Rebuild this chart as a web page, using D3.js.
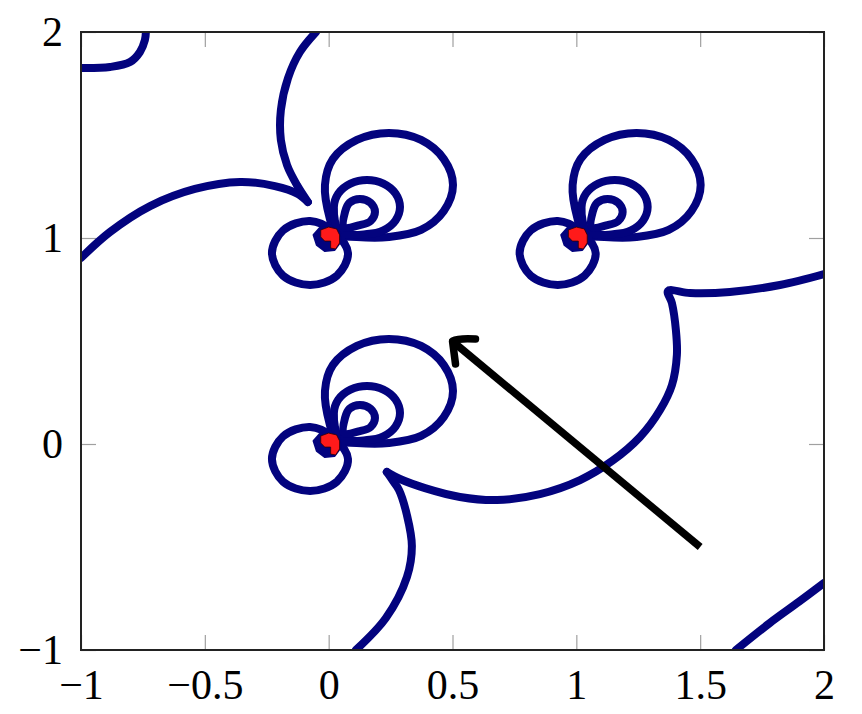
<!DOCTYPE html>
<html><head><meta charset="utf-8">
<script src="https://cdn.jsdelivr.net/npm/d3@7"></script>
<style>html,body{margin:0;padding:0;background:#fff}</style>
</head><body>
<svg id="c" width="862" height="714"></svg>
<script>
// ---- data (all in axis units) ----
const xTicks = [-1, -0.5, 0, 0.5, 1, 1.5, 2];
const yTicks = [-1, 0, 1, 2];
const poles = [[0, 0], [0, 1], [1, 1]];
// loop shapes around each pole (offsets from the pole)
const loopBig = [[0.005,0.092],[-0.015,0.257],[0.017,0.383],[0.114,0.476],[0.243,0.510],[0.373,0.476],[0.465,0.383],[0.502,0.257],[0.465,0.131],[0.373,0.039],[0.243,0.005],[0.114,0.005],[0.029,0.019]];
const loopMid = [[0.021,0.150],[0.039,0.216],[0.088,0.264],[0.155,0.282],[0.221,0.264],[0.270,0.216],[0.288,0.150],[0.270,0.085],[0.221,0.037],[0.155,0.019],[0.046,0.029]];
const loopSmall = [[0.066,0.126],[0.084,0.171],[0.126,0.189],[0.169,0.171],[0.187,0.126],[0.169,0.082],[0.126,0.063],[0.062,0.053]];
const loopLeft = [[0.078,-0.073],[0.033,-0.183],[-0.075,-0.228],[-0.184,-0.183],[-0.229,-0.073],[-0.184,0.037],[-0.075,0.083],[0.017,0.034]];
const blobOuter = [[-0.061,0.015],[-0.036,0.049],[0.012,0.053],[0.044,0.029],[0.048,-0.019],[0.024,-0.058],[-0.016,-0.063],[-0.048,-0.034]];
const blobRed = [[-0.032,0.039],[0,0.053],[0.032,0.044],[0.044,0.015],[0.044,-0.024],[0.028,-0.053],[0.008,-0.049],[0.008,-0.015],[-0.016,-0.015],[-0.032,0.005]];
// open contour curves
const curveA = [[-1,1.825],[-0.883,1.83],[-0.802,1.854],[-0.762,1.903],[-0.742,1.961],[-0.738,2.0]];
const curveB = [[-0.051,2.0],[-0.116,1.903],[-0.164,1.777],[-0.193,1.621],[-0.193,1.476],[-0.168,1.354],[-0.128,1.257],[-0.084,1.175]];
const curveC = [[-1.0,0.903],[-0.883,1.029],[-0.721,1.155],[-0.540,1.238],[-0.358,1.272],[-0.217,1.252],[-0.124,1.214],[-0.084,1.175]];
const curveD = [[2.0,0.825],[1.822,0.772],[1.620,0.738],[1.459,0.733],[1.370,0.743],[1.386,0.684],[1.402,0.553],[1.406,0.432],[1.386,0.286],[1.338,0.165],[1.257,0.034],[1.144,-0.083],[1.015,-0.175],[0.853,-0.243],[0.680,-0.272],[0.530,-0.257],[0.389,-0.214],[0.288,-0.170],[0.235,-0.136]];
const curveE = [[0.11,-1.0],[0.231,-0.845],[0.316,-0.646],[0.336,-0.495],[0.316,-0.345],[0.284,-0.223],[0.260,-0.180],[0.235,-0.136]];
const curveF = [[1.644,-1.0],[1.78,-0.87],[1.90,-0.765],[2.0,-0.675]];
const arrowTail = [1.5, -0.5];
const arrowHead = [0.5, 0.5];

// ---- layout ----
const L = 81, R = 824, T = 32, B = 650;
const NAVY = "#03037e";
const svg = d3.select("#c");
const x = d3.scaleLinear().domain([-1, 2]).range([L, R]);
const y = d3.scaleLinear().domain([-1, 2]).range([B, T]);

svg.append("defs").append("clipPath").attr("id", "clip")
  .append("rect").attr("x", L).attr("y", T).attr("width", R - L).attr("height", B - T);

const fmt = d => (d < 0 ? "\u2212" + Math.abs(d) : String(d));
const font = "'Liberation Serif','DejaVu Serif',serif";

function styleAxis(g, labels) {
  g.select(".domain").remove();
  g.selectAll(".tick line").attr("stroke", "#a0a0a0").attr("stroke-width", 1.2);
  g.selectAll(".tick text").attr("fill", "#000").style("font-family", font).style("font-size", "42px");
  if (!labels) g.selectAll(".tick text").remove();
}
svg.append("g").attr("transform", `translate(0,${B})`)
  .call(d3.axisBottom(x).tickValues(xTicks).tickFormat(fmt).tickSize(-15).tickPadding(19))
  .call(g => styleAxis(g, true));
svg.append("g").attr("transform", `translate(0,${T})`)
  .call(d3.axisTop(x).tickValues(xTicks).tickSize(-15))
  .call(g => styleAxis(g, false));
svg.append("g").attr("transform", `translate(${L},0)`)
  .call(d3.axisLeft(y).tickValues(yTicks).tickFormat(fmt).tickSize(-15).tickPadding(18))
  .call(g => styleAxis(g, true));
svg.append("g").attr("transform", `translate(${R},0)`)
  .call(d3.axisRight(y).tickValues(yTicks).tickSize(-15))
  .call(g => styleAxis(g, false));

const plot = svg.append("g").attr("clip-path", "url(#clip)");
const openLine = d3.line().x(d => x(d[0])).y(d => y(d[1])).curve(d3.curveCatmullRom.alpha(0.5));
const closedLine = d3.line().x(d => x(d[0])).y(d => y(d[1])).curve(d3.curveCatmullRomClosed.alpha(0.5));
const polyLine = d3.line().x(d => x(d[0])).y(d => y(d[1])).curve(d3.curveLinearClosed);

[curveA, curveB, curveC, curveD, curveE, curveF].forEach(c => {
  plot.append("path").attr("d", openLine(c)).attr("fill", "none")
    .attr("stroke", NAVY).attr("stroke-width", 8).attr("stroke-linecap", "round").attr("stroke-linejoin", "round");
});

poles.forEach(p => {
  [loopBig, loopMid, loopSmall, loopLeft].forEach(lp => {
    const pts = lp.map(o => [p[0] + o[0], p[1] + o[1]]);
    plot.append("path").attr("d", closedLine(pts)).attr("fill", "none")
      .attr("stroke", NAVY).attr("stroke-width", 8);
  });
  plot.append("path").attr("d", polyLine(blobOuter.map(o => [p[0] + o[0], p[1] + o[1]])))
    .attr("fill", NAVY).attr("stroke", NAVY).attr("stroke-width", 2).attr("stroke-linejoin", "round");
  plot.append("path").attr("d", polyLine(blobRed.map(o => [p[0] + o[0], p[1] + o[1]])))
    .attr("fill", "#ff1a1a").attr("stroke", "#300").attr("stroke-width", 0.8);
});

// arrow
const tx = x(arrowHead[0]), ty = y(arrowHead[1]);
plot.append("line").attr("x1", x(arrowTail[0])).attr("y1", y(arrowTail[1]))
  .attr("x2", tx + 2).attr("y2", ty + 2).attr("stroke", "#000").attr("stroke-width", 7.5);
plot.append("path")
  .attr("d", `M${tx + 23},${ty - 2} Q${tx + 6},${ty - 3} ${tx},${ty} Q${tx + 1},${ty + 8} ${tx + 3},${ty + 23}`)
  .attr("fill", "none").attr("stroke", "#000").attr("stroke-width", 7.5)
  .attr("stroke-linecap", "round").attr("stroke-linejoin", "round");

// frame
svg.append("rect").attr("x", L).attr("y", T).attr("width", R - L).attr("height", B - T)
  .attr("fill", "none").attr("stroke", "#222").attr("stroke-width", 2);
</script>
</body></html>
